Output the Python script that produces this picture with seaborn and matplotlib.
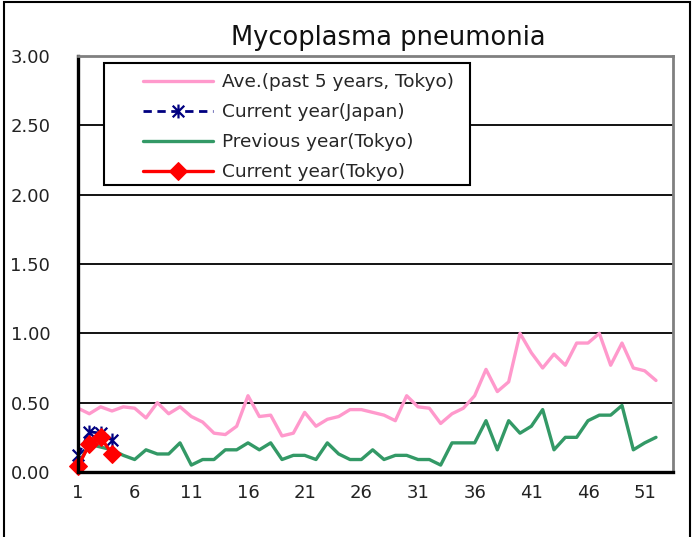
import numpy as np
import pandas as pd
import seaborn as sns
import matplotlib.pyplot as plt
from matplotlib.path import Path
from matplotlib.patches import Rectangle

# weekly values (per sentinel)
weeks = list(range(1, 53))
ave_5yr = [0.46, 0.42, 0.47, 0.44, 0.47, 0.46, 0.39, 0.50, 0.42, 0.47,
           0.40, 0.36, 0.28, 0.27, 0.33, 0.55, 0.40, 0.41, 0.26, 0.28,
           0.43, 0.33, 0.38, 0.40, 0.45, 0.45, 0.43, 0.41, 0.37, 0.55,
           0.47, 0.46, 0.35, 0.42, 0.46, 0.55, 0.74, 0.58, 0.65, 1.00,
           0.86, 0.75, 0.85, 0.77, 0.93, 0.93, 1.00, 0.77, 0.93, 0.75,
           0.73, 0.66]
prev_year = [0.05, 0.20, 0.18, 0.16, 0.12, 0.09, 0.16, 0.13, 0.13, 0.21,
             0.05, 0.09, 0.09, 0.16, 0.16, 0.21, 0.16, 0.21, 0.09, 0.12,
             0.12, 0.09, 0.21, 0.13, 0.09, 0.09, 0.16, 0.09, 0.12, 0.12,
             0.09, 0.09, 0.05, 0.21, 0.21, 0.21, 0.37, 0.16, 0.37, 0.28,
             0.33, 0.45, 0.16, 0.25, 0.25, 0.37, 0.41, 0.41, 0.48, 0.16,
             0.21, 0.25]
cur_weeks = [1, 2, 3, 4]
cur_japan = [0.12, 0.29, 0.28, 0.23]
cur_tokyo = [0.04, 0.20, 0.25, 0.13]

xtick_labels = [1, 6, 11, 16, 21, 26, 31, 36, 41, 46, 51]
ytick_vals = [0.0, 0.5, 1.0, 1.5, 2.0, 2.5, 3.0]

sns.set_style("white")
plt.rcParams['font.family'] = ['DejaVu Sans']

fig = plt.figure(figsize=(6.93, 5.37), dpi=100)
ax = fig.add_axes([78 / 693, 65 / 537, 595 / 693, 416 / 537])

# excel style star marker: x plus vertical bar
star = Path([(-1, -1), (1, 1), (-1, 1), (1, -1), (0, -1.2), (0, 1.2)],
            [Path.MOVETO, Path.LINETO, Path.MOVETO, Path.LINETO,
             Path.MOVETO, Path.LINETO])

sns.lineplot(x=weeks, y=ave_5yr, ax=ax, color='#FF99CC', linewidth=2.4,
             label='Ave.(past 5 years, Tokyo)')
sns.lineplot(x=cur_weeks, y=cur_japan, ax=ax, color='#000080', linewidth=2,
             linestyle=(0, (3, 2)), marker=star, markersize=10,
             markeredgewidth=1.6, markerfacecolor='none',
             markeredgecolor='#000080', label='Current year(Japan)',
             clip_on=False)
sns.lineplot(x=weeks, y=prev_year, ax=ax, color='#339966', linewidth=2.4,
             label='Previous year(Tokyo)')
sns.lineplot(x=cur_weeks, y=cur_tokyo, ax=ax, color='#FF0000', linewidth=2.4,
             marker='D', markersize=9.5, markeredgecolor='#FF0000',
             label='Current year(Tokyo)', clip_on=False)

ax.set_xlim(1, 53.5)
ax.set_ylim(0, 3.0)
ax.set_xticks(xtick_labels)
ax.set_xticklabels([str(v) for v in xtick_labels])
ax.set_yticks(ytick_vals)
ax.set_yticklabels(['%.2f' % v for v in ytick_vals])
ax.tick_params(axis='x', direction='in', length=5, width=1.5, color='black',
               labelsize=13, pad=9, colors='#222222')
ax.tick_params(axis='y', length=0, labelsize=13, pad=20, colors='#222222')
ax.grid(axis='y', color='black', linewidth=1.3)
ax.set_axisbelow(True)

for s in ['left', 'bottom']:
    ax.spines[s].set_color('black')
    ax.spines[s].set_linewidth(2.4)
for s in ['top', 'right']:
    ax.spines[s].set_color('#808080')
    ax.spines[s].set_linewidth(2)

# legend box drawn separately so its padding matches the original
ax.add_patch(Rectangle((26 / 595, 287 / 416), 366 / 595, 122 / 416,
                       transform=ax.transAxes, facecolor='white',
                       edgecolor='black', linewidth=1.5, zorder=4))
leg = ax.legend(loc='upper left', bbox_to_anchor=(65 / 595, 399 / 416),
                frameon=False, fontsize=13.3, handlelength=3.8,
                handletextpad=0.45, borderpad=0, labelspacing=0.65,
                borderaxespad=0)
leg.set_zorder(5)

fig.text(388 / 693, 1 - 38 / 537, 'Mycoplasma pneumonia', ha='center',
         va='center', fontsize=18.5, color='#111111')

# outer chart border
fig.patches.append(Rectangle((4 / 693, -0.01), 686 / 693, 1.007,
                             transform=fig.transFigure, fill=False,
                             edgecolor='black', linewidth=1.5))

fig.savefig('out.png', dpi=100)
